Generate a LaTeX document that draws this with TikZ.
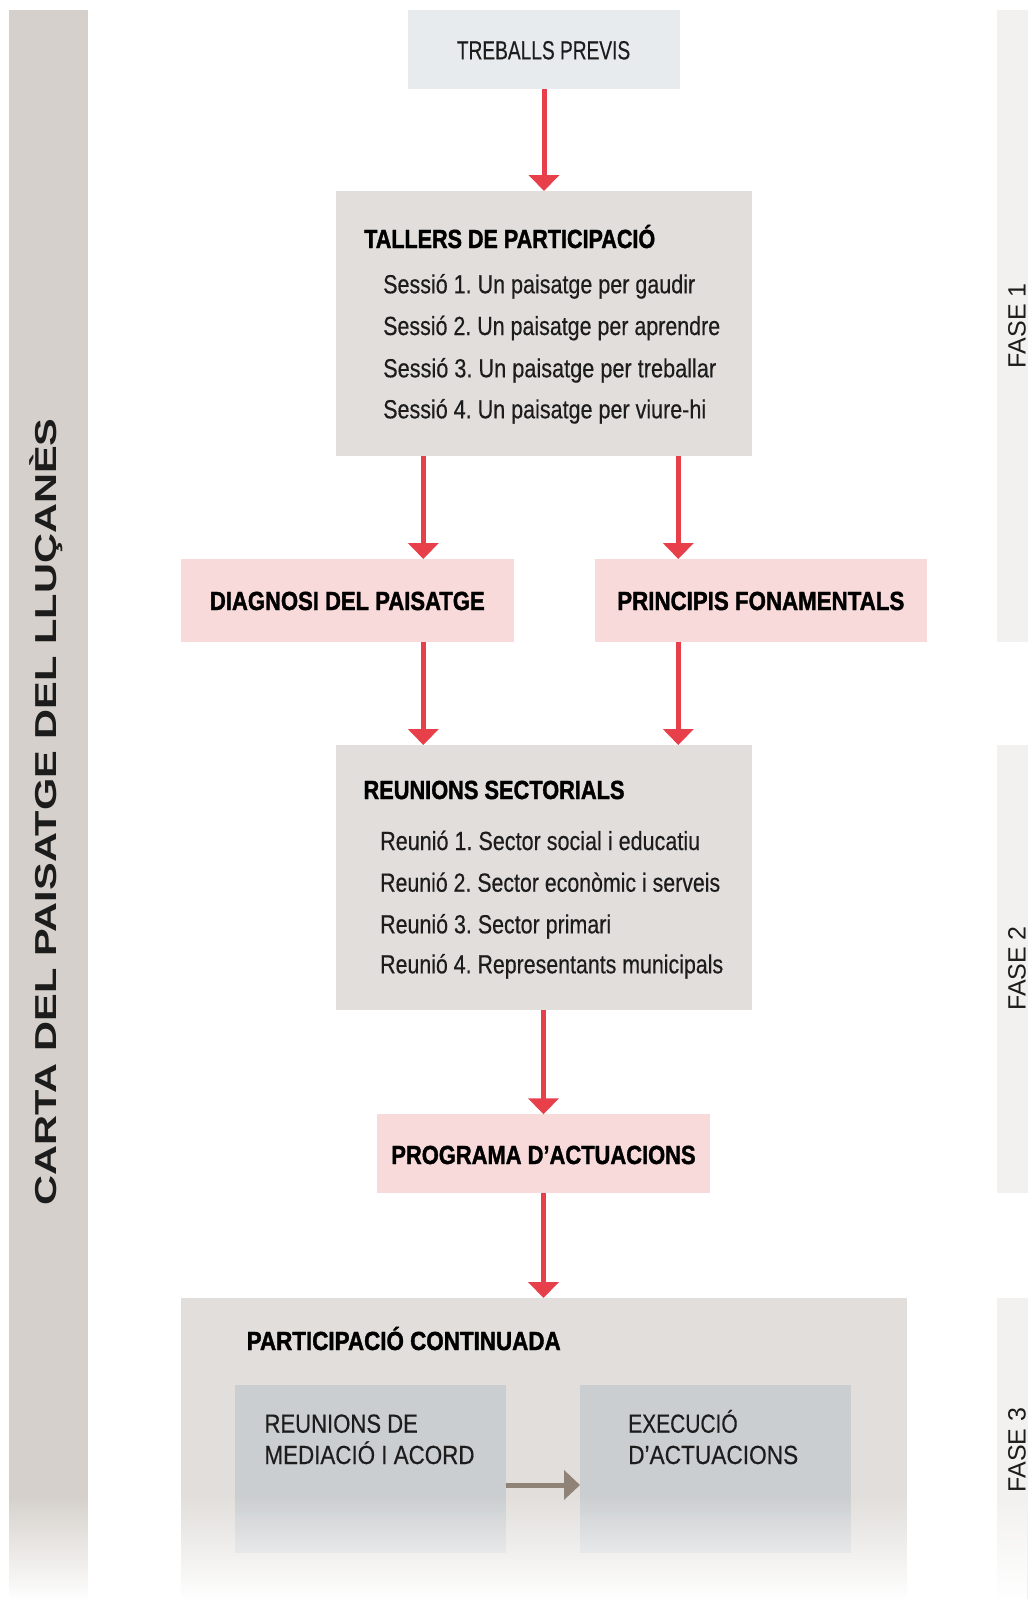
\documentclass[tikz,border=0pt]{standalone}
\usepackage{fontspec}
\setmainfont{Liberation Sans}
\newfontfamily\cbold[FakeBold=1.6]{Liberation Sans}
\newfontfamily\creg[FakeBold=0.4]{Liberation Sans}
\usepackage{graphicx}
\usetikzlibrary{arrows.meta,fadings}
\frenchspacing
\definecolor{bandc}{HTML}{D5D0CB}
\definecolor{grayc}{HTML}{E1DEDB}
\definecolor{prevc}{HTML}{E8EBEE}
\definecolor{pinkc}{HTML}{F8DADA}
\definecolor{innerc}{HTML}{CBCED0}
\definecolor{stripc}{HTML}{F2F1EF}
\definecolor{redc}{HTML}{E8404A}
\definecolor{garrc}{HTML}{8F8377}
\definecolor{txtc}{HTML}{1C1C1C}
\newcommand{\hfit}[2]{\resizebox{#1pt}{\height}{#2}}
\tikzfading[name=fadeup, top color=transparent!100, bottom color=transparent!0]
\begin{document}
\begin{tikzpicture}[x=1pt,y=-1pt,
  box/.style={rectangle, inner sep=0pt, outer sep=0pt, draw=none, anchor=north west},
  reg/.style={inner sep=0pt, anchor=base west, text=txtc, font=\creg\fontsize{26.2}{30}\selectfont},
  bld/.style={inner sep=0pt, anchor=base west, text=black, font=\cbold\bfseries\fontsize{26.2}{30}\selectfont},
  fase/.style={inner sep=0pt, anchor=base, rotate=90, text=txtc, font=\fontsize{25}{28}\selectfont},
  rarrow/.style={draw=redc, line width=5pt, -{Triangle[width=30pt,length=16pt]}},
  garrow/.style={draw=garrc, line width=5pt, -{Triangle[width=29pt,length=16pt]}}
]
\useasboundingbox (0,0) rectangle (1028,1599);
\fill[white] (0,0) rectangle (1028,1599);

% side bands
\fill[bandc] (8.5,10) rectangle (88,1599);
\fill[stripc] (997,10) rectangle (1028,641.5);
\fill[stripc] (997,745) rectangle (1028,1192.5);
\fill[stripc] (997,1298) rectangle (1028,1599);

% boxes
\node[box, fill=prevc, minimum width=272pt, minimum height=79pt] (treballs) at (408,10) {};
\node[box, fill=grayc, minimum width=416pt, minimum height=265pt] (tallers) at (336,191) {};
\node[box, fill=pinkc, minimum width=332.5pt, minimum height=82.5pt] (diag) at (181,559) {};
\node[box, fill=pinkc, minimum width=332.5pt, minimum height=82.5pt] (prin) at (594.5,559) {};
\node[box, fill=grayc, minimum width=416pt, minimum height=264.5pt] (reun) at (336,745) {};
\node[box, fill=pinkc, minimum width=333pt, minimum height=78.4pt] (prog) at (377,1114.3) {};
\node[box, fill=grayc, minimum width=726pt, minimum height=301pt] (part) at (181,1298) {};
\node[box, fill=innerc, minimum width=270.6pt, minimum height=168pt] (med) at (235,1385) {};
\node[box, fill=innerc, minimum width=271pt, minimum height=168pt] (exe) at (580,1385) {};

% arrow columns
\coordinate (ax1) at (423.3,0);
\coordinate (ax2) at (678.3,0);
\coordinate (gy) at (0,1485);

% connectors
\draw[rarrow] (treballs.south) -- (tallers.north);
\draw[rarrow] (tallers.south -| ax1) -- (diag.north -| ax1);
\draw[rarrow] (tallers.south -| ax2) -- (prin.north -| ax2);
\draw[rarrow] (diag.south -| ax1) -- (reun.north -| ax1);
\draw[rarrow] (prin.south -| ax2) -- (reun.north -| ax2);
\draw[rarrow] (reun.south -| prog.north) -- (prog.north);
\draw[rarrow] (prog.south) -- (part.north -| prog.south);
\draw[garrow] (med.east |- gy) -- (exe.west |- gy);

% texts
\node[reg] (tp) at (456.7,59.3) {\hfit{173.3}{TREBALLS PREVIS}};

\node[bld] (ttall) at (364,248) {\hfit{291}{TALLERS DE PARTICIPACIÓ}};
\node[reg] (s1) at (383,293.3) {\hfit{312}{Sessió 1. Un paisatge per gaudir}};
\node[reg] (s2) at (383,335) {\hfit{337}{Sessió 2. Un paisatge per aprendre}};
\node[reg] (s3) at (383,377.3) {\hfit{333}{Sessió 3. Un paisatge per treballar}};
\node[reg] (s4) at (383,418.3) {\hfit{323}{Sessió 4. Un paisatge per viure-hi}};

\node[bld, anchor=base] (tdiag) at (347.3,610) {\hfit{274.7}{DIAGNOSI DEL PAISATGE}};
\node[bld, anchor=base] (tprin) at (760.8,610) {\hfit{287}{PRINCIPIS FONAMENTALS}};

\node[bld] (treun) at (363.3,799) {\hfit{261}{REUNIONS SECTORIALS}};
\node[reg] (r1) at (380,850) {\hfit{320}{Reunió 1. Sector social i educatiu}};
\node[reg] (r2) at (380,891.7) {\hfit{340}{Reunió 2. Sector econòmic i serveis}};
\node[reg] (r3) at (380,933.3) {\hfit{231}{Reunió 3. Sector primari}};
\node[reg] (r4) at (380,973.3) {\hfit{343}{Reunió 4. Representants municipals}};

\node[bld, anchor=base] (tprog) at (543.5,1164) {\hfit{304.3}{PROGRAMA D’ACTUACIONS}};

\node[bld] (tpart) at (246.5,1350) {\hfit{314}{PARTICIPACIÓ CONTINUADA}};
\node[reg] (m1) at (264.3,1432.7) {\hfit{153.4}{REUNIONS DE}};
\node[reg] (m2) at (264.3,1464) {\hfit{210}{MEDIACIÓ I ACORD}};
\node[reg] (e1) at (628,1432.7) {\hfit{109.5}{EXECUCIÓ}};
\node[reg] (e2) at (628,1464) {\hfit{170}{D’ACTUACIONS}};

% side labels
\node[inner sep=0pt, anchor=base, rotate=90, text=txtc, font=\bfseries\fontsize{30.3}{34}\selectfont] (title) at (56.7,811.8) {\hfit{787}{CARTA DEL PAISATGE DEL LLUÇANÈS}};
\node[fase] (f1) at (1025.5,325.7) {FASE 1};
\node[fase] (f2) at (1025.5,968.5) {FASE 2};
\node[fase] (f3) at (1025.5,1450) {FASE 3};

% bottom fade
\fill[white, path fading=fadeup] (0,1495) rectangle (1028,1599.5);
\end{tikzpicture}
\end{document}
